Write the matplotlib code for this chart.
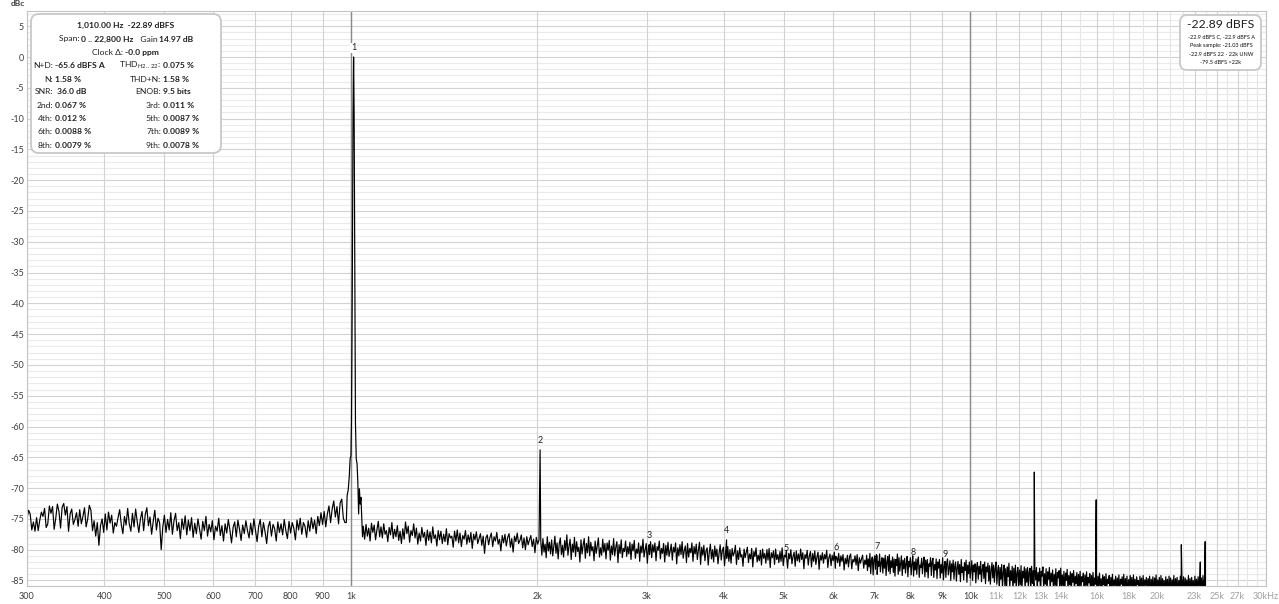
import numpy as np
import matplotlib
matplotlib.use('Agg')
import matplotlib.pyplot as plt
from matplotlib.patches import FancyBboxPatch
from matplotlib.transforms import IdentityTransform

plt.rcParams['font.family'] = ['Lato', 'DejaVu Sans']

W, H = 1279, 604

# axis ticks
tick_hz = [300, 400, 500, 600, 700, 800, 900, 1000, 2000, 3000, 4000, 5000,
           6000, 7000, 8000, 9000, 10000, 11000, 12000, 13000, 14000, 16000,
           18000, 20000, 23000, 25000, 27000, 30000]
tick_lbl = ['300', '400', '500', '600', '700', '800', '900', '1k', '2k', '3k',
            '4k', '5k', '6k', '7k', '8k', '9k', '10k', '11k', '12k', '13k',
            '14k', '16k', '18k', '20k', '23k', '25k', '27k', '30kHz']
extra_grid_hz = [15000, 17000, 19000, 21000, 22000, 24000, 26000, 28000, 29000]
dark_grid_hz = [1000, 10000]
y_ticks = [5, 0, -5, -10, -15, -20, -25, -30, -35, -40, -45, -50, -55, -60,
           -65, -70, -75, -80, -85]

# noise floor 300 Hz .. ~980 Hz (dBc)
low_db = [
    -75.0, -73.6, -74.2, -76.8, -75.5, -77.0, -74.8, -76.9, -75.2, -73.9,
    -74.6, -73.3, -76.4, -75.8, -72.9, -74.1, -73.0, -76.7, -74.9, -72.6,
    -73.8, -76.5, -73.1, -72.5, -74.4, -73.0, -77.0, -74.2, -73.4, -75.9,
    -75.1, -74.0, -76.2, -73.5, -75.8, -74.6, -73.2, -76.3, -75.0, -72.8,
    -73.6, -76.9, -75.3, -77.8, -75.6, -79.3, -76.1, -75.0, -77.2, -74.2,
    -76.8, -73.9, -75.7, -74.4, -77.3, -75.6, -76.2, -74.8, -73.5, -75.9,
    -77.4, -74.6, -76.0, -73.3, -75.8, -77.0, -74.1, -76.3, -73.4, -75.5,
    -77.2, -75.0, -73.8, -76.9, -74.3, -73.2, -76.1, -74.7, -77.5, -75.4,
    -73.6, -76.8, -74.9, -75.6, -80.0, -76.3, -74.4, -77.2, -75.1, -76.8,
    -74.0, -77.5, -75.3, -74.1, -76.9, -75.6, -78.2, -75.0, -76.7, -74.5,
    -77.6, -75.2, -76.9, -74.8, -78.0, -75.7, -77.4, -75.0, -76.6, -78.3,
    -75.4, -76.9, -74.6, -77.8, -75.9, -77.1, -75.3, -78.4, -76.2, -77.0,
    -74.9, -77.7, -76.1, -78.6, -75.8, -77.3, -75.1, -76.8, -78.9, -76.4,
    -75.5, -77.9, -75.2, -76.7, -78.5, -76.0, -77.4, -75.3, -76.9, -78.1,
    -75.7, -77.6, -75.0, -76.8, -78.7, -76.2, -75.1, -77.9, -75.6, -77.1,
    -79.0, -76.3, -75.4, -77.8, -75.9, -76.6, -78.6, -75.5, -77.2, -75.8,
    -77.6, -75.1, -76.9, -78.2, -75.4, -77.3, -75.6, -76.5, -78.4, -75.2,
    -76.8, -74.9, -77.5, -75.6, -76.2, -78.0, -75.3, -77.0, -74.8, -76.6,
    -75.2, -77.4, -74.6, -76.1, -74.0, -75.9, -73.8, -76.3, -74.2, -72.9,
    -75.6, -73.4, -72.1, -74.7, -73.0, -75.8, -72.4, -71.8, -74.9, -75.6]

# fundamental and its skirt
peak_hz = [983, 986, 990, 994, 997, 1000, 1002, 1005, 1008, 1010, 1012, 1015,
           1017, 1020, 1023, 1026, 1029, 1032, 1035, 1038, 1041, 1044]
peak_db = [-75.6, -71.2, -70.3, -68.0, -65.2, -64.8, -59.4, -38.0, -9.0, 0.0,
           -9.0, -38.0, -59.4, -65.3, -66.0, -69.0, -74.2, -70.1, -72.6, -71.5,
           -74.8, -77.9]

# noise 1.05 kHz .. 2 kHz
mid_db = [
    -76.2, -78.3, -75.9, -77.8, -76.5, -78.6, -75.7, -77.2, -76.0, -78.4,
    -76.8, -75.4, -77.9, -76.3, -78.1, -75.8, -77.5, -76.9, -78.7, -76.4,
    -77.6, -75.6, -78.2, -76.7, -77.9, -76.1, -78.5, -77.0, -79.0, -76.6,
    -78.3, -75.5, -77.4, -76.2, -78.8, -76.9, -77.7, -75.8, -78.1, -76.5,
    -79.1, -77.3, -78.6, -76.4, -78.0, -77.2, -79.3, -76.8, -78.5, -77.1,
    -78.9, -76.3, -78.2, -77.6, -79.4, -76.9, -78.4, -77.0, -79.0, -77.5,
    -78.7, -76.6, -79.2, -77.4, -78.1, -77.8, -79.6, -77.0, -78.6, -76.8,
    -78.9, -77.3, -79.5, -77.7, -78.3, -76.9, -79.1, -77.6, -78.8, -77.2,
    -79.8, -77.5, -78.4, -77.1, -79.0, -78.2, -77.4, -79.3, -77.8, -80.6,
    -78.1, -77.6, -79.2, -78.0, -77.3, -79.5, -77.9, -78.6, -77.2, -79.1,
    -78.3, -80.2, -77.7, -78.9, -77.5, -79.4, -78.0, -77.4, -79.6, -78.2,
    -80.4, -77.8, -78.7, -77.3, -79.0, -78.5, -77.6, -79.7, -78.1, -80.0,
    -77.9, -79.2, -78.4, -77.7, -79.5, -78.3, -80.5, -78.0, -79.1, -78.4]

# noise band 2 kHz .. 6.8 kHz
band1_db = [
    -78.6, -80.9, -78.2, -80.4, -79.1, -81.3, -77.9, -80.2, -78.8, -80.7,
    -78.4, -81.0, -79.5, -77.8, -80.6, -78.9, -81.5, -79.0, -78.1, -80.8,
    -79.3, -81.2, -78.5, -80.1, -77.6, -80.9, -79.4, -78.3, -81.6, -79.1,
    -80.4, -78.0, -81.1, -78.7, -80.3, -79.6, -82.0, -78.4, -80.7, -79.2,
    -78.2, -81.4, -79.0, -80.5, -77.9, -81.0, -78.8, -80.2, -79.5, -81.8,
    -78.6, -80.6, -79.3, -78.1, -81.2, -79.7, -80.9, -78.3, -80.4, -79.0,
    -81.5, -78.9, -80.1, -78.5, -81.7, -79.4, -80.8, -78.2, -81.0, -79.6,
    -78.7, -82.1, -79.2, -80.6, -78.4, -81.3, -79.8, -80.3, -78.6, -81.1,
    -79.5, -80.7, -78.8, -81.6, -79.1, -80.2, -78.5, -81.4, -79.9, -80.6,
    -78.9, -81.9, -79.4, -80.5, -78.3, -81.2, -80.0, -79.0, -82.2, -79.6,
    -80.8, -78.7, -81.3, -79.2, -80.4, -78.9, -81.8, -79.5, -80.1, -78.6,
    -81.5, -79.8, -80.6, -79.0, -82.0, -79.3, -80.9, -78.8, -81.1, -80.2,
    -79.1, -81.7, -79.6, -80.4, -78.9, -82.3, -79.7, -81.0, -79.2, -80.8,
    -78.7, -81.4, -80.1, -79.4, -82.1, -79.0, -81.2, -79.8, -80.5, -78.9,
    -81.9, -79.5, -80.7, -79.1, -81.6, -80.0, -78.8, -82.4, -79.6, -80.9,
    -79.3, -81.8, -80.2, -79.7, -82.5, -80.4, -79.1, -81.5, -80.0, -82.0,
    -79.4, -81.1, -79.9, -82.3, -80.6, -79.2, -81.7, -80.1, -79.6, -82.6,
    -80.3, -81.4, -79.5, -81.9, -80.0, -82.2, -79.8, -81.0, -80.5, -79.3,
    -82.4, -80.2, -81.6, -79.7, -81.2, -80.8, -82.7, -79.9, -81.3, -80.4,
    -79.6, -82.1, -80.7, -81.5, -79.8, -82.8, -80.3, -81.1, -79.7, -82.0,
    -80.9, -81.8, -80.1, -82.5, -79.9, -81.4, -80.6, -82.2, -80.0, -81.7,
    -79.8, -82.9, -80.5, -81.3, -80.2, -82.4, -79.9, -81.6, -80.8, -82.1,
    -80.3, -81.9, -79.7, -82.6, -80.9, -81.2, -80.1, -83.0, -80.6, -81.5,
    -80.0, -82.3, -81.1, -80.4, -82.7, -80.2, -81.8, -80.7, -82.0, -79.9,
    -81.6, -80.5, -83.1, -80.8, -81.4, -80.1, -82.5, -81.0, -80.3, -82.8,
    -80.6, -81.9, -80.2, -82.4, -81.2, -80.4, -83.2, -80.9, -81.7, -80.5,
    -82.2, -80.8, -81.5, -80.1, -82.9, -81.3, -80.7, -82.6, -80.9, -81.8,
    -80.4, -83.0, -81.2, -82.1, -80.6, -82.7, -81.0, -81.9, -80.8, -83.3,
    -81.4, -82.3, -80.9, -82.8, -81.1, -80.7, -83.1, -81.6, -82.0, -81.0,
    -82.5, -80.8, -83.4, -81.3, -82.2, -81.5, -80.9, -83.0, -81.7, -82.4]

# noise band 6.8 kHz .. 24 kHz
band2_db = [
    -80.9, -83.4, -81.5, -82.8, -80.6, -83.9, -81.7, -81.2, -84.1, -81.6,
    -81.0, -83.2, -80.8, -84.0, -81.9, -82.7, -80.7, -83.6, -82.1, -81.3,
    -83.8, -81.4, -83.0, -80.9, -84.2, -82.0, -81.1, -83.5, -80.8, -83.9,
    -81.8, -82.9, -81.2, -83.7, -81.5, -84.3, -81.6, -82.6, -80.7, -84.0,
    -81.3, -83.5, -82.2, -81.0, -84.2, -81.7, -83.1, -81.4, -83.8, -82.3,
    -81.1, -84.4, -81.9, -82.8, -81.3, -84.1, -82.4, -81.0, -84.3, -82.0,
    -83.3, -81.5, -84.0, -81.8, -81.2, -84.5, -82.5, -82.9, -81.4, -83.9,
    -82.1, -81.2, -84.4, -81.7, -83.6, -81.6, -84.6, -82.3, -82.7, -81.3,
    -84.2, -81.9, -81.4, -84.5, -82.4, -83.3, -81.5, -84.7, -82.0, -83.0,
    -81.6, -84.6, -82.4, -83.8, -81.3, -84.9, -82.7, -81.9, -84.5, -82.2,
    -81.5, -84.1, -82.9, -81.8, -85.0, -82.3, -83.6, -81.7, -84.8, -82.6,
    -82.0, -85.1, -83.0, -81.9, -84.0, -82.4, -85.2, -81.6, -83.7, -82.8,
    -84.9, -82.1, -83.4, -81.7, -85.3, -82.5, -83.9, -82.0, -84.6, -83.1,
    -81.8, -85.0, -82.5, -83.6, -82.3, -85.4, -82.9, -82.1, -84.8, -82.7,
    -84.0, -81.9, -85.2, -83.2, -82.4, -84.7, -82.0, -85.5, -82.8, -83.6,
    -82.2, -85.1, -82.6, -85.6, -83.4, -82.1, -84.6, -82.5, -85.3, -83.0,
    -82.0, -85.6, -83.5, -82.6, -86.6, -82.9, -84.8, -82.4, -86.2, -83.7,
    -82.5, -85.9, -83.1, -86.7, -82.8, -84.4, -82.2, -86.3, -83.4, -85.0,
    -82.7, -86.8, -83.0, -85.4, -82.5, -86.4, -83.8, -82.9, -86.0, -83.3,
    -85.7, -82.6, -86.9, -83.5, -84.6, -82.8, -86.5, -83.1, -85.3, -82.9,
    -86.2, -83.6, -83.0, -86.8, -82.7, -85.5, -83.4, -87.0, -83.2, -84.9,
    -82.9, -86.6, -83.7, -85.1, -83.0, -86.9, -83.5, -84.3, -82.8, -86.4,
    -83.9, -85.6, -83.1, -87.1, -83.6, -84.8, -82.9, -86.7, -83.8, -85.2,
    -83.3, -86.5, -84.0, -85.8, -83.1, -87.2, -83.7, -84.6, -83.4, -86.9,
    -83.0, -85.9, -84.1, -86.3, -83.5, -87.0, -83.8, -85.0, -83.2, -86.6,
    -84.2, -85.7, -83.6, -87.3, -83.9, -85.3, -83.4, -86.8, -84.3, -85.5,
    -83.7, -87.1, -84.0, -86.0, -83.5, -86.6, -84.4, -85.2, -83.8, -87.4,
    -84.1, -85.8, -83.6, -86.9, -84.5, -85.4, -83.9, -87.2, -84.2, -86.1,
    -83.7, -86.7, -84.6, -85.6, -84.0, -87.5, -84.3, -85.9, -83.8, -86.4,
    -84.7, -87.0, -84.1, -85.7, -84.4, -87.3, -83.9, -86.2, -84.8, -85.5,
    -84.2, -87.6, -84.5, -86.0, -84.0, -86.8, -84.9, -85.8, -84.3, -87.1,
    -84.6, -86.3, -84.1, -87.4, -84.8, -85.6, -84.4, -86.9, -84.0, -87.2,
    -84.7, -86.1, -84.3, -87.7, -84.9, -85.9, -84.2, -86.6, -84.5, -87.3,
    -84.1, -86.4, -84.8, -87.0, -84.4, -85.7, -85.0, -87.5, -84.3, -86.2,
    -84.6, -87.8, -84.2, -86.5, -84.9, -85.8, -84.5, -87.1, -84.7, -86.0,
    -84.3, -87.4, -84.8, -86.7, -84.4, -87.9, -84.6, -85.9, -84.1, -87.2,
    -84.9, -86.3, -84.5, -87.6, -84.2, -86.8, -84.7, -86.1, -85.0, -87.3,
    -84.4, -86.6, -84.8, -87.9, -84.3, -86.2, -84.6, -87.0, -84.9, -86.5,
    -84.2, -87.5, -84.7, -86.0, -84.5, -87.7, -85.0, -86.4, -84.3, -87.1,
    -84.8, -86.7, -84.4, -87.8, -84.6, -86.2, -84.9, -87.4, -84.2, -86.9,
    -84.7, -87.2, -84.5, -86.4, -85.0, -87.9, -84.3, -86.6, -84.8, -87.0,
    -84.4, -86.3, -84.9, -87.6, -84.6, -86.8, -84.2, -87.3, -84.7, -86.5]

# harmonics (numbered) and other spurs
harm_hz = [1010, 2020, 3030, 4040, 5050, 6060, 7070, 8080, 9090]
harm_db = [0.0, -63.8, -79.2, -78.4, -81.2, -81.1, -81.0, -82.0, -82.2]
spur_hz = [12680, 15960, 21900, 23500, 23930]
spur_db = [-67.4, -71.9, -79.2, -82.0, -78.7]

fig = plt.figure(figsize=(W / 100, H / 100), dpi=100)
ax = fig.add_axes([27 / W, 18 / H, (1266 - 27) / W, (586 - 11) / H])
ax.set_xscale('log')
ax.set_xlim(300, 30000)
ax.set_ylim(-85.9, 7.47)

# grid
for v in range(-85, 8):
    ax.axhline(v, color='#d2d2d2' if v % 5 == 0 else '#ebebeb', lw=0.8, zorder=0)
for f in tick_hz:
    ax.axvline(f, color='#d2d2d2', lw=0.8, zorder=0)
for f in extra_grid_hz:
    ax.axvline(f, color='#e6e6e6', lw=0.8, zorder=0)
for f in dark_grid_hz:
    ax.axvline(f, color='#8a8a8a', lw=1.0, zorder=0)

hz = np.concatenate([np.geomspace(300, 978, len(low_db)), peak_hz,
                     np.geomspace(1047, 2012, len(mid_db)),
                     np.geomspace(2025, 6780, len(band1_db)),
                     np.geomspace(6800, 23950, len(band2_db)),
                     harm_hz[1:], spur_hz])
db = np.concatenate([low_db, peak_db, mid_db, band1_db, band2_db,
                     harm_db[1:], spur_db])
order = np.argsort(hz)
ax.plot(hz[order], db[order], color='black', lw=0.85, zorder=2)

for k, (f, v) in enumerate(zip(harm_hz, harm_db)):
    bb = dict(facecolor='white', edgecolor='none', pad=0.6) if k == 0 else None
    ax.annotate(str(k + 1), (f, v), xytext=(0, 6.5), textcoords='offset points',
                ha='center', va='center', fontsize=6.5, color='#202020',
                bbox=bb, zorder=3)

ax.set_xticks(tick_hz)
ax.set_xticklabels(tick_lbl)
ax.xaxis.set_minor_locator(matplotlib.ticker.NullLocator())
for lab, f in zip(ax.get_xticklabels(), tick_hz):
    lab.set_color('#a0a0a0' if f > 10000 else '#404040')
ax.set_yticks(y_ticks)
ax.set_yticklabels([str(v) for v in y_ticks])
ax.tick_params(axis='x', length=0, pad=4.5, labelsize=6.5)
ax.tick_params(axis='y', length=0, pad=2.2, labelsize=6.5, labelcolor='#404040')
for s in ax.spines.values():
    s.set_color('#c4c4c4')
    s.set_linewidth(0.8)

px = IdentityTransform()
rend = fig.canvas.get_renderer()
BOX_FS = 6.1


def txt(x, y, s, ha='center', bold=False, size=BOX_FS, color='#202020'):
    return fig.text(x, H - y, s, transform=px, ha=ha, va='center', fontsize=size,
                    fontweight='bold' if bold else 'normal', color=color,
                    zorder=5)


def line(xc, y, parts):
    # a centred line made of regular / bold pieces
    items = [txt(0, y, s, ha='left', bold=b) for s, b in parts]
    widths = [t.get_window_extent(renderer=rend).width for t in items]
    x = xc - sum(widths) / 2
    for t, w in zip(items, widths):
        t.set_x(x)
        x += w


fig.text(18, H - 4, 'dBc', transform=px, ha='center', va='center',
         fontsize=6, color='#404040', fontweight='bold')

# measurement box, top left
fig.add_artist(FancyBboxPatch((31, H - 153), 190, 139,
                              boxstyle='round,pad=0,rounding_size=8',
                              transform=px, facecolor='white',
                              edgecolor='#c8c8c8', lw=1.3, zorder=4))
line(126, 25, [('1,010.00 Hz  -22.89 dBFS', True)])
line(126, 39, [('Span: ', False), ('0 .. 22,800 Hz', True),
               ('   Gain ', False), ('14.97 dB', True)])
line(125, 52.5, [('Clock \u0394: ', False), ('-0.0 ppm', True)])

rows_l = ['N+D:', 'N:', 'SNR:', '2nd:', '4th:', '6th:', '8th:']
vals_l = ['-65.6 dBFS A', '1.58 %', ' 36.0 dB', '0.067 %', '0.012 %',
          '0.0088 %', '0.0079 %']
rows_r = [r'THD$_{\mathregular{H2..22}}$:', 'THD+N:', 'ENOB:', '3rd:', '5th:',
          '7th:', '9th:']
vals_r = ['0.075 %', '1.58 %', '9.5 bits', '0.011 %', '0.0087 %', '0.0089 %',
          '0.0078 %']
row_y = [65, 79, 92, 106, 118.5, 132, 145]
for y, a, b, c, d in zip(row_y, rows_l, vals_l, rows_r, vals_r):
    txt(53, y, a, ha='right')
    txt(55, y, b, ha='left', bold=True)
    txt(161, y, c, ha='right')
    txt(163, y, d, ha='left', bold=True)

# level box, top right
fig.add_artist(FancyBboxPatch((1180, H - 70), 81, 55,
                              boxstyle='round,pad=0,rounding_size=7',
                              transform=px, facecolor='white',
                              edgecolor='#c8c8c8', lw=1.3, zorder=4))
txt(1221, 25, '-22.89 dBFS', size=8.8)
level_lines = ['-22.9 dBFS C, -22.9 dBFS A', 'Peak sample: -21.03 dBFS',
               '-22.9 dBFS 22 - 22k UNW', '-79.5 dBFS >22k']
for y, s in zip([37, 45.5, 54, 62.5], level_lines):
    txt(1221, y, s, size=4.0, color='#101010')

fig.savefig('out.png', dpi=100)
